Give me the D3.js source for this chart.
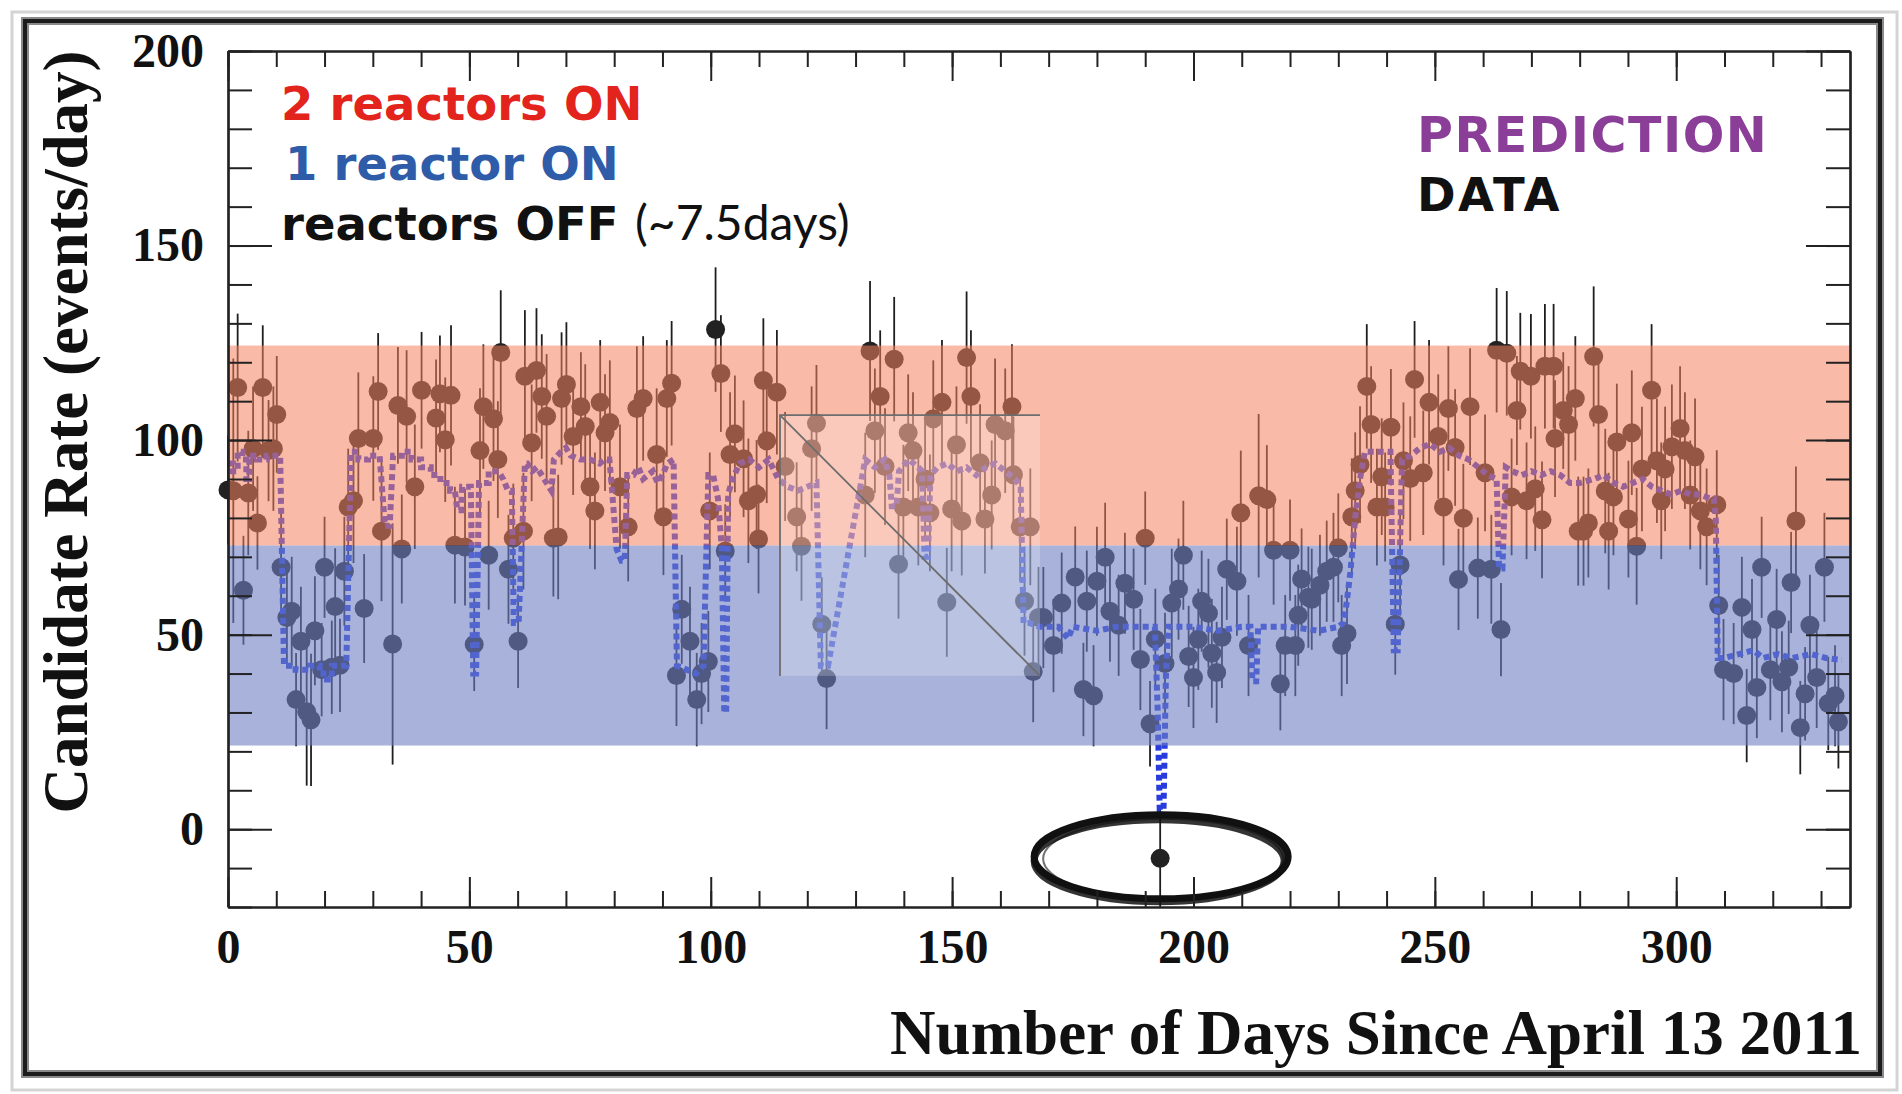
<!DOCTYPE html>
<html>
<head>
<meta charset="utf-8">
<script src="https://cdn.jsdelivr.net/npm/d3@7"></script>
<style>
  html, body { margin: 0; padding: 0; background: #fff; }
  svg { display: block; }
</style>
</head>
<body>
<svg id="chart" width="1902" height="1094"></svg>
<script>
// Daily candidate rate (events/day) with its error.
const days = [
  0, 1.1, 2.0, 3.2, 4.2, 5.2, 6.1, 7.2, 8.4, 9.4, 10.1, 11.0, 12.2, 13.2, 14.1, 15.1, 16.3, 17.2, 18.0, 19.4,
  20.0, 21.5, 22.2, 23.2, 24.1, 24.9, 26.0, 27.0, 28.2, 30.1, 31.1, 31.8, 34.1, 35.2, 36.0, 37.0, 38.7, 40.1, 43.1, 43.9,
  45.0, 46.2, 47.0, 49.1, 51.0, 52.2, 52.9, 54.0, 55.0, 55.9, 56.5, 58.1, 59.1, 60.1, 61.2, 61.5, 62.9, 63.9, 65.0, 66.0,
  67.4, 68.4, 69.1, 70.1, 71.5, 73.1, 74.0, 75.0, 76.0, 77.1, 78.1, 79.1, 81.2, 82.9, 84.7, 86.0, 88.8, 90.2, 90.9, 91.9,
  92.9, 94.0, 95.7, 97.1, 98.1, 99.5, 99.8, 101.0, 102.1, 103.0, 104.0, 105.0, 106.8, 107.8, 109.5, 109.9, 110.9, 111.6, 113.7, 115.4,
  117.8, 118.8, 120.9, 121.9, 123.0, 124.0, 132.0, 133.0, 134.0, 135.1, 136.1, 138.0, 138.9, 139.9, 140.9, 141.9, 143.0, 144.4, 145.4, 146.1,
  147.9, 148.9, 149.9, 150.9, 152.0, 153.0, 153.9, 155.8, 156.8, 158.2, 158.9, 161.0, 162.4, 162.7, 164.1, 165.0, 166.2, 166.8, 167.9, 168.9,
  171.0, 172.7, 175.5, 177.2, 177.9, 179.3, 180.0, 181.7, 182.7, 184.5, 185.8, 187.6, 189.0, 190.0, 191.0, 192.1, 193.1, 194.1, 195.5, 196.9,
  197.9, 199.0, 200.0, 201.0, 201.7, 203.1, 203.8, 204.8, 205.9, 206.9, 209.0, 209.8, 211.4, 213.5, 215.2, 216.6, 218.0, 219.0, 220.0, 221.1,
  221.7, 222.4, 223.8, 224.5, 226.2, 227.6, 229.0, 230.0, 230.7, 231.8, 232.8, 233.5, 234.5, 235.9, 236.8, 238.0, 239.0, 239.7, 240.9, 241.8,
  242.8, 243.5, 244.9, 245.8, 247.6, 248.8, 250.7, 251.8, 252.8, 254.2, 254.9, 255.9, 257.3, 258.9, 260.4, 261.7, 262.8, 263.7, 264.9, 265.9,
  267.0, 267.7, 269.0, 269.9, 270.8, 272.2, 272.8, 274.6, 274.9, 276.6, 277.7, 279.1, 279.7, 280.8, 281.8, 282.9, 283.9, 285.3, 286.0, 287.0,
  287.7, 290.1, 290.8, 291.8, 292.9, 294.9, 296.0, 296.9, 297.7, 299.1, 300.8, 301.8, 302.9, 303.9, 305.0, 306.3, 308.4, 308.8, 309.8, 311.9,
  313.6, 314.6, 315.7, 316.7, 317.7, 319.5, 320.8, 321.9, 323.3, 323.8, 324.8, 325.7, 326.7, 327.7, 329.1, 330.7, 331.5, 332.9, 333.6
];
const rates = [
  87.2, 87.0, 113.5, 61.4, 86.4, 97.8, 78.7, 113.5, 97.3, 97.8, 106.6, 67.3, 54.4, 56.0, 33.3, 48.3, 30.2, 28.1, 51.0, 41.0,
  67.3, 41.6, 57.2, 42.1, 66.3, 82.8, 84.4, 100.4, 56.7, 100.4, 112.5, 76.6, 47.6, 108.9, 72.0, 106.1, 88.0, 112.8, 105.7, 111.9,
  100.1, 111.5, 73.0, 72.5, 47.5, 97.3, 108.6, 70.4, 105.5, 95.0, 122.5, 66.8, 74.8, 48.3, 76.6, 116.4, 99.3, 117.9, 111.2, 106.1,
  74.8, 75.1, 110.7, 114.3, 100.9, 108.6, 103.5, 88.0, 81.8, 109.7, 101.9, 104.5, 88.0, 77.7, 108.1, 110.7, 96.3, 80.3, 110.7, 114.6,
  39.5, 56.5, 48.3, 33.3, 40.0, 43.1, 81.8, 128.4, 117.1, 71.5, 96.3, 101.6, 95.2, 84.4, 86.0, 74.6, 115.3, 99.8, 112.3, 93.2,
  80.3, 72.7, 97.8, 104.3, 52.7, 38.7, 85.9, 122.9, 102.4, 111.2, 93.2, 120.8, 68.1, 82.8, 101.9, 97.3, 82.8, 90.0, 81.3, 105.5,
  109.7, 58.3, 82.3, 98.8, 79.2, 121.2, 111.2, 94.2, 79.7, 85.9, 104.0, 102.4, 108.6, 91.1, 77.7, 58.6, 77.7, 40.5, 54.4, 54.4,
  47.2, 58.1, 64.8, 35.9, 58.6, 34.3, 63.7, 69.9, 56.0, 52.4, 63.2, 59.1, 43.6, 74.8, 27.1, 48.8, -7.5, 42.6, 58.1, 61.7,
  70.4, 44.4, 39.0, 48.8, 58.6, 55.5, 45.2, 40.3, 49.3, 66.8, 63.7, 81.3, 47.2, 85.7, 84.7, 71.7, 37.4, 47.2, 71.7, 47.2,
  55.0, 64.3, 59.6, 59.1, 62.7, 66.3, 67.3, 72.3, 47.2, 50.3, 80.3, 87.0, 93.7, 113.8, 104.0, 82.8, 90.6, 82.8, 103.3, 52.7,
  67.9, 94.7, 90.1, 115.6, 91.6, 109.7, 100.9, 82.8, 108.1, 98.1, 64.2, 79.9, 108.6, 67.1, 91.6, 66.8, 123.1, 51.3, 122.3, 85.4,
  107.6, 117.7, 84.4, 116.4, 87.5, 79.5, 119.0, 119.0, 100.4, 107.6, 104.0, 110.7, 76.6, 76.6, 78.7, 121.5, 106.6, 86.9, 76.6, 85.4,
  99.5, 79.7, 101.9, 72.7, 92.6, 112.8, 94.7, 84.4, 92.6, 98.3, 103.0, 97.3, 85.9, 95.7, 81.8, 77.7, 83.4, 57.5, 41.0, 40.0,
  57.0, 29.2, 51.3, 36.4, 67.3, 41.0, 53.9, 37.9, 41.6, 63.4, 79.2, 26.1, 34.8, 52.4, 39.0, 67.3, 32.3, 34.3, 27.6
];
const errs = [
  14, 34, 19, 14, 16, 16, 12, 16, 13, 16, 15, 14, 13, 14, 12, 14, 19, 17, 14, 12,
  13, 12, 15, 12, 14, 15, 16, 17, 14, 16, 15, 18, 31, 15, 14, 17, 16, 15, 15, 15,
  16, 18, 15, 15, 12, 16, 16, 14, 16, 15, 16, 14, 14, 12, 15, 17, 15, 16, 16, 16,
  15, 16, 17, 16, 15, 14, 16, 16, 15, 16, 15, 16, 16, 14, 16, 16, 17, 15, 15, 16,
  13, 14, 14, 12, 13, 13, 15, 16, 15, 12, 16, 15, 15, 16, 14, 14, 16, 16, 16, 14,
  14, 14, 16, 15, 12, 13, 16, 18, 16, 17, 15, 16, 14, 16, 15, 15, 15, 15, 15, 15,
  16, 14, 16, 15, 14, 17, 17, 15, 14, 14, 17, 16, 16, 15, 14, 14, 15, 13, 13, 13,
  12, 13, 13, 12, 13, 13, 14, 14, 13, 13, 13, 13, 13, 12, 11, 13, 13, 13, 14, 13,
  14, 13, 13, 13, 13, 14, 14, 13, 13, 13, 14, 16, 13, 21, 14, 14, 12, 13, 13, 13,
  13, 13, 13, 13, 13, 13, 14, 14, 13, 13, 15, 15, 15, 16, 15, 15, 15, 14, 15, 13,
  13, 15, 16, 15, 16, 16, 16, 15, 16, 15, 13, 14, 15, 13, 15, 14, 16, 12, 16, 15,
  14, 15, 15, 16, 16, 15, 16, 16, 15, 15, 15, 16, 14, 14, 14, 18, 17, 16, 15, 15,
  15, 15, 16, 15, 16, 17, 16, 15, 16, 16, 16, 15, 14, 15, 15, 15, 14, 13, 13, 13,
  13, 12, 13, 13, 13, 13, 13, 13, 12, 13, 14, 12, 12, 13, 13, 14, 12, 13, 12
];

// Predicted rate: vertices of the dashed step curve (day, events/day).
const predDays = [
  0, 1, 1, 2, 2, 3, 3, 3.8, 3.8, 4.4, 4.4, 6, 6, 8, 8, 10.8, 11.6, 14, 14, 17, 17, 19, 19, 20.5, 20.5, 21.5, 21.5, 24.5,
  25.5, 27, 27, 29, 29, 31.4, 32.5, 33.5, 34.2, 36, 36, 38, 38, 40, 40, 42, 42, 44, 44, 46, 46, 47, 47.5, 48.3, 48.5, 50.3,
  50.8, 51.4, 52, 54, 54, 56, 57, 58, 58.8, 59.2, 60.2, 61.5, 62, 63, 64, 65, 66, 67, 67.5, 69, 70, 71, 73, 75, 77, 78, 79,
  79.5, 80.5, 81.5, 82.2, 82.7, 84, 85, 86, 88, 89, 90, 91, 92.3, 93, 95, 97, 98.5, 99.5, 100.5, 101.5, 102.3, 102.8, 103.2,
  103.6, 104.5, 106, 108, 110, 112, 114, 116, 118, 120, 121.9, 122.8, 124.3, 132, 134, 136, 137, 137.5, 138.5, 139, 141,
  143, 143.8, 144.3, 145, 145.5, 147, 149, 151, 153, 155, 157, 159, 161, 163, 164.2, 164.8, 166, 168, 172, 174, 175, 180,
  184, 188, 192, 192.6, 193, 193.8, 194.3, 194.8, 200, 205, 210, 211.8, 212.2, 213, 213.4, 220, 226, 230, 231, 231.5,
  232.5, 233.5, 234.5, 235.5, 237, 240, 240.8, 241.5, 242.3, 243.2, 245, 247, 249, 251, 253, 255, 257, 259, 261, 262.8,
  263.3, 264, 264.7, 266, 268, 270, 272, 274, 276, 278, 280, 283, 285, 287, 289, 291, 293, 295, 297, 299, 301, 303, 305,
  307, 307.8, 308.2, 308.6, 310, 313, 316, 318, 321, 324, 328, 331, 334.3
];
const predRates = [
  94, 94, 92, 92, 97, 97, 95, 95, 90, 90, 96, 96, 95, 95, 96, 96, 42, 42, 41, 41, 42, 42, 40, 40, 38.5, 38.5, 42, 42,
  97, 97, 95, 95, 96, 96, 78, 78, 96, 96, 97, 97, 95, 95, 93, 93, 91, 91, 89, 89, 87, 87, 82, 82, 88, 88,
  40, 40, 89, 89, 92, 92, 90, 87, 87, 53, 53, 94, 94, 92, 93, 91, 89, 87, 95, 97, 98, 96, 95, 95, 94, 95, 95,
  88, 72, 69, 69, 91, 91, 93, 90, 92, 89, 91, 94, 95, 42, 41, 40, 42, 91, 91, 85, 72, 30, 30,
  86, 90, 94, 95, 93, 95, 90, 88, 87, 88, 89, 42, 42, 95, 93, 95, 91, 83, 83, 92, 95,
  93, 92, 70, 70, 91, 93, 94, 92, 93, 91, 93, 94, 92, 90, 88, 53, 53, 52, 52, 49, 52, 51,
  52, 52, 52, 30, 5, 5, 40, 52, 52, 51, 52, 52, 38, 38, 52, 52, 51, 52, 53, 56,
  66, 80, 90, 97, 97, 97, 97, 46, 46, 95, 96, 98, 99, 97, 98, 96, 95, 93, 91, 90,
  67, 67, 93, 92, 91, 92, 91, 92, 91, 89, 89, 90, 91, 89, 88, 89, 90, 88, 87, 86, 87, 86, 86,
  85, 85, 80, 44, 44, 45, 46, 44, 45, 44, 45, 44, 43.5
];

// Reactor-status bands (events/day).
const bandLabels = ['2 reactors ON', '1 reactor ON'];
const bandHigh = [124.3, 72.9];
const bandLow = [72.9, 21.5];
const bandColors = ['rgb(244,130,96)', 'rgb(110,127,193)'];
const bandAlpha = [0.55, 0.6];

// Ticks.
const xMajor = [0, 50, 100, 150, 200, 250, 300];
const xMinor = d3.range(0, 337, 10);
const yMajor = [0, 50, 100, 150, 200];
const yMinor = d3.range(-20, 201, 10);

// Grey inset box and the circled point.
const insetDays = [114.35, 168.2];
const insetRates = [39.4, 106.4];
const circledDay = 193.3, circledRate = -7.1;

const svg = d3.select('#chart');
const x = d3.scaleLinear().domain([0, 336]).range([228, 1850]);
const y = d3.scaleLinear().domain([-20, 200]).range([907, 51]);

// Slide frame.
svg.append('rect').attr('x', 12).attr('y', 12).attr('width', 1885).attr('height', 1078)
  .attr('fill', 'none').attr('stroke', '#d4d4d4').attr('stroke-width', 3);
svg.append('rect').attr('x', 25).attr('y', 21).attr('width', 1855).attr('height', 1053)
  .attr('fill', 'none').attr('stroke', '#8a8a8a').attr('stroke-width', 8);
svg.append('rect').attr('x', 25).attr('y', 21).attr('width', 1855).attr('height', 1053)
  .attr('fill', 'none').attr('stroke', '#1c1c1c').attr('stroke-width', 4);

const data = days.map((d, i) => ({day: d, rate: rates[i], err: errs[i]}));
const clampY = (v) => y(Math.max(-20, Math.min(200, v)));

// Error bars and points.
const marks = svg.append('g');
marks.selectAll('line.err').data(data).join('line')
  .attr('class', 'err')
  .attr('x1', (d) => x(d.day)).attr('x2', (d) => x(d.day))
  .attr('y1', (d) => clampY(d.rate - d.err)).attr('y2', (d) => clampY(d.rate + d.err))
  .attr('stroke', '#1e1e1e').attr('stroke-width', 1.8);
marks.selectAll('circle').data(data).join('circle')
  .attr('cx', (d) => x(d.day)).attr('cy', (d) => y(d.rate)).attr('r', 9.5)
  .attr('fill', '#222');

// Prediction (dashed).
const pred = predDays.map((d, i) => [d, predRates[i]]);
marks.append('path').datum(pred)
  .attr('d', d3.line().x((d) => x(d[0])).y((d) => y(d[1])))
  .attr('fill', 'none').attr('stroke', 'rgb(40,60,222)').attr('stroke-width', 6)
  .attr('stroke-dasharray', '6 4');

// Bands laid over the marks.
svg.append('g').selectAll('rect').data(bandLabels).join('rect')
  .attr('x', x(0)).attr('width', x(336) - x(0))
  .attr('y', (d, i) => y(bandHigh[i])).attr('height', (d, i) => y(bandLow[i]) - y(bandHigh[i]))
  .attr('fill', (d, i) => bandColors[i]).attr('fill-opacity', (d, i) => bandAlpha[i]);

// Inset placeholder box.
const bx0 = x(insetDays[0]), bx1 = x(insetDays[1]), by0 = y(insetRates[1]), by1 = y(insetRates[0]);
svg.append('rect').attr('x', bx0).attr('y', by0).attr('width', bx1 - bx0).attr('height', by1 - by0)
  .attr('fill', '#fff').attr('fill-opacity', 0.22);
svg.append('path')
  .attr('d', `M${bx0},${by1}V${by0}H${bx1}M${bx0},${by0}L${bx1},${by1}`)
  .attr('fill', 'none').attr('stroke', '#6d6d6d').attr('stroke-width', 1.8);

// Hand-drawn ring round the zero-rate day.
const ring = svg.append('g').attr('transform', `translate(${x(circledDay)},${y(circledRate)})`)
  .attr('fill', 'none').attr('stroke', '#111');
ring.append('ellipse').attr('rx', 127).attr('ry', 42).attr('stroke-width', 7);
ring.append('ellipse').attr('rx', 125).attr('ry', 41).attr('cx', -2).attr('cy', 4)
  .attr('stroke-width', 7).attr('stroke-opacity', 0.85);
ring.append('ellipse').attr('rx', 120).attr('ry', 40).attr('cx', 2).attr('cy', 2)
  .attr('stroke-width', 2).attr('stroke-opacity', 0.6);

// Axes.
function styleAxis(g) {
  g.selectAll('path.domain').attr('stroke', '#222').attr('stroke-width', 2.2);
  g.selectAll('.tick line').attr('stroke', '#222').attr('stroke-width', 2);
  g.selectAll('.tick text').attr('fill', '#111')
    .style('font-family', '"Liberation Serif", "Times New Roman", serif')
    .style('font-weight', 'bold').style('font-size', '48px');
}
const noLabel = () => '';
svg.append('g').attr('transform', `translate(0,${y(-20)})`)
  .call(d3.axisBottom(x).tickValues(xMinor).tickSize(-16).tickSizeOuter(0).tickFormat(noLabel)).call(styleAxis);
svg.append('g').attr('transform', `translate(0,${y(-20)})`)
  .call(d3.axisBottom(x).tickValues(xMajor).tickSize(-30).tickSizeOuter(0).tickPadding(22).tickFormat(d3.format('d')))
  .call(styleAxis);
svg.append('g').attr('transform', `translate(0,${y(200)})`)
  .call(d3.axisTop(x).tickValues(xMinor).tickSize(-16).tickSizeOuter(0).tickFormat(noLabel)).call(styleAxis);
svg.append('g').attr('transform', `translate(0,${y(200)})`)
  .call(d3.axisTop(x).tickValues(xMajor).tickSize(-30).tickSizeOuter(0).tickFormat(noLabel)).call(styleAxis);
svg.append('g').attr('transform', `translate(${x(0)},0)`)
  .call(d3.axisLeft(y).tickValues(yMinor).tickSize(-24).tickSizeOuter(0).tickFormat(noLabel)).call(styleAxis);
svg.append('g').attr('transform', `translate(${x(0)},0)`)
  .call(d3.axisLeft(y).tickValues(yMajor).tickSize(-44).tickSizeOuter(0).tickPadding(24).tickFormat(d3.format('d')))
  .call(styleAxis);
svg.append('g').attr('transform', `translate(${x(336)},0)`)
  .call(d3.axisRight(y).tickValues(yMinor).tickSize(-24).tickSizeOuter(0).tickFormat(noLabel)).call(styleAxis);
svg.append('g').attr('transform', `translate(${x(336)},0)`)
  .call(d3.axisRight(y).tickValues(yMajor).tickSize(-44).tickSizeOuter(0).tickFormat(noLabel)).call(styleAxis);

// Axis titles.
const serif = '"Liberation Serif", "Times New Roman", serif';
svg.append('text').attr('transform', 'translate(87,432) rotate(-90)')
  .attr('text-anchor', 'middle').attr('font-family', serif).attr('font-weight', 'bold')
  .attr('font-size', 63).attr('fill', '#111').text('Candidate Rate (events/day)');
svg.append('text').attr('x', 1862).attr('y', 1054)
  .attr('text-anchor', 'end').attr('font-family', serif).attr('font-weight', 'bold')
  .attr('font-size', 63).attr('fill', '#111').text('Number of Days Since April 13 2011');

// Legend.
const legend = svg.append('g').attr('font-family', '"DejaVu Sans", sans-serif')
  .attr('font-weight', 'bold').attr('font-size', 46.5);
legend.append('text').attr('x', 281).attr('y', 120).attr('fill', '#e3241d').text(bandLabels[0]);
legend.append('text').attr('x', 285).attr('y', 180).attr('fill', '#2e5ca9').text(bandLabels[1]);
const off = legend.append('text').attr('y', 240).attr('fill', '#111');
off.append('tspan').attr('x', 281).text('reactors OFF');
off.append('tspan').attr('x', 635).attr('font-family', 'Lato, "Open Sans", sans-serif')
  .attr('font-weight', 'normal').attr('font-size', 48).text('(~7.5days)');
legend.append('text').attr('x', 1417).attr('y', 152).attr('fill', '#8a3e98')
  .attr('font-size', 49).attr('letter-spacing', 1.5).text('PREDICTION');
legend.append('text').attr('x', 1417).attr('y', 211).attr('fill', '#111')
  .attr('letter-spacing', 2.5).text('DATA');
</script>
</body>
</html>
